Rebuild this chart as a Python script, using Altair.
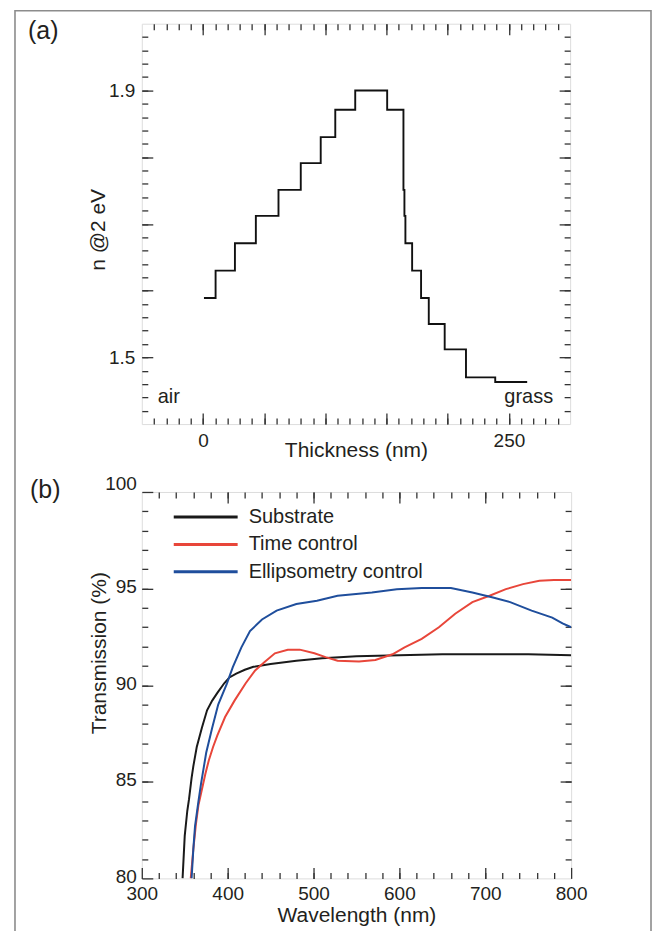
import altair as alt
import pandas as pd

# ---------------- data: panel (a) ----------------
thickness_nm = [0.8, 10.3, 26.1, 43.2, 61.7, 79.9, 96.2, 108.1, 124.4, 150.5,
                163.8, 164.6, 165.4, 170.9, 178.2, 184.5, 197.5, 214.9, 238.8, 264.9]
n_at_2eV = [1.589, 1.630, 1.671, 1.712, 1.751, 1.791, 1.830, 1.871, 1.900, 1.871,
            1.751, 1.712, 1.671, 1.630, 1.589, 1.550, 1.512, 1.470, 1.463, 1.463]

# ---------------- data: panel (b) ----------------
series_names = ["Substrate", "Time control", "Ellipsometry control"]
series_colors = ["#1a1a1a", "#e8463a", "#1f4e9c"]

wl_sub = [347.5, 350, 353, 355, 358, 360, 364, 370, 376, 382, 388, 396, 402, 410,
          420, 430, 450, 480, 510, 550, 600, 650, 700, 750, 800]
tr_sub = [80.0, 82.2, 83.5, 84.1, 85.2, 85.8, 86.8, 87.8, 88.7, 89.2, 89.6, 90.1, 90.4, 90.6,
          90.8, 90.95, 91.1, 91.27, 91.4, 91.5, 91.55, 91.6, 91.6, 91.6, 91.55]

wl_time = [357, 360, 363, 366, 370, 374, 378, 383, 388, 397, 408, 421, 432, 443, 455, 470,
           484, 501, 514, 528, 553, 572, 592, 606, 626, 646, 665, 685, 705, 724, 744, 763,
           780, 800]
tr_time = [80.0, 81.5, 82.8, 83.8, 84.6, 85.4, 86.1, 86.8, 87.4, 88.35, 89.2, 90.1, 90.76,
           91.2, 91.65, 91.83, 91.84, 91.65, 91.45, 91.27, 91.22, 91.3, 91.6, 91.96, 92.4,
           93.0, 93.7, 94.3, 94.63, 94.97, 95.23, 95.4, 95.44, 95.45]

wl_ell = [358, 360, 362, 366, 369, 375, 382, 389, 399, 406, 416, 426, 440, 457, 480, 504,
          528, 568, 597, 626, 660, 685, 709, 729, 754, 778, 790, 800]
tr_ell = [80.0, 81.5, 82.7, 84.0, 84.9, 86.5, 87.8, 89.0, 90.07, 90.93, 91.96, 92.8, 93.4,
          93.86, 94.2, 94.37, 94.63, 94.8, 94.96, 95.03, 95.03, 94.8, 94.54, 94.3, 93.86,
          93.5, 93.2, 93.0]

# tick positions
a_x_major = [0, 50, 100, 150, 200, 250]
a_x_minor = list(range(-40, 300, 10))
a_y_major = [1.5, 1.6, 1.7, 1.8, 1.9]
a_y_minor = [round(1.42 + 0.02 * i, 2) for i in range(29)]
b_x_major = [400, 500, 600, 700]
b_x_labels = [300, 400, 500, 600, 700, 800]
b_x_minor = list(range(320, 800, 20))
b_y_major = [85, 90, 95]
b_y_labels = [80, 85, 90, 95, 100]
b_y_minor = list(range(81, 100))

FONT = "Liberation Sans"
TXT = "#231f20"
AXC = "#333333"
MAJ = 11
MIN = 6
TICKFS = 19
TITLEFS = 21
TEXTFS = 20

step_df = pd.DataFrame({"x": thickness_nm, "n": n_at_2eV})
rows = []
for name, wl, tr in [(series_names[0], wl_sub, tr_sub),
                     (series_names[1], wl_time, tr_time),
                     (series_names[2], wl_ell, tr_ell)]:
    for w, t in zip(wl, tr):
        rows.append({"wl": w, "T": t, "series": name})
trans_df = pd.DataFrame(rows)
legend_df = pd.DataFrame({"series": series_names, "row": list(range(len(series_names)))})
one = pd.DataFrame({"k": [0]})


def tick_axis(orient, values, size, labels=False, **kw):
    base = dict(orient=orient, values=values, tickSize=size, offset=-size, domain=False,
                grid=False, ticks=True, tickColor=AXC, tickWidth=1.3, labels=labels,
                title=None, labelFlush=False)
    if labels:
        base.update(labelFont=FONT, labelFontSize=TICKFS, labelColor=TXT, labelPadding=6)
    base.update(kw)
    return alt.Axis(**base)


def title_style(text, **kw):
    d = dict(title=text, titleFont=FONT, titleFontSize=TITLEFS, titleColor=TXT,
             titleFontWeight="normal", titleBaseline="middle")
    d.update(kw)
    return d


def ghost(df, xf, yf, xs, ys, xaxis, yaxis):
    return alt.Chart(df).mark_line(strokeOpacity=0).encode(
        x=alt.X(xf, scale=xs, axis=xaxis), y=alt.Y(yf, scale=ys, axis=yaxis))


# ---------------- panel (a) ----------------
WA, HA = 429, 401
xa = alt.Scale(domain=[-50, 300], nice=False, zero=False)
ya = alt.Scale(domain=[1.4, 2.0], nice=False, zero=False)

a_main = alt.Chart(step_df).mark_line(interpolate="step-after", color="#111111",
                                      strokeWidth=1.9).encode(
    x=alt.X("x:Q", scale=xa, axis=tick_axis(
        "bottom", a_x_major, MAJ, labels=True, labelPadding=7,
        labelExpr="datum.value == 0 || datum.value == 250 ? datum.label : ''",
        **title_style("Thickness (nm)", titleY=37))),
    y=alt.Y("n:Q", scale=ya, axis=tick_axis(
        "left", a_y_major, MAJ, labels=True, labelPadding=7,
        labelExpr="datum.value == 1.5 || datum.value == 1.9 ? datum.label : ''",
        **title_style("n @2 eV", titleX=-54, titleY=206))),
)

a_g1 = ghost(step_df, "x:Q", "n:Q", xa, ya, tick_axis("top", a_x_major, MAJ),
             tick_axis("right", a_y_major, MAJ))
a_g2 = ghost(step_df, "x:Q", "n:Q", xa, ya, tick_axis("bottom", a_x_minor, MIN),
             tick_axis("left", a_y_minor, MIN))
a_g3 = ghost(step_df, "x:Q", "n:Q", xa, ya, tick_axis("top", a_x_minor, MIN),
             tick_axis("right", a_y_minor, MIN))

txt_style = dict(font=FONT, fontSize=TEXTFS, color=TXT, baseline="alphabetic")
a_air = alt.Chart(one).mark_text(text="air", align="left", **txt_style).encode(
    x=alt.value(16), y=alt.value(380))
a_grass = alt.Chart(one).mark_text(text="grass", align="right", **txt_style).encode(
    x=alt.value(WA - 17), y=alt.value(380))
a_lab = alt.Chart(one).mark_text(text="(a)", align="left", baseline="middle", font=FONT,
                                 fontSize=25, color=TXT).encode(
    x=alt.value(-114), y=alt.value(7))

# outer figure frame (its lower edge lies below the visible page)
frame = alt.Chart(one).mark_rect(fill="white", fillOpacity=0, stroke="#8c8c8c",
                                 strokeWidth=1.6).encode(
    x=alt.value(-127), x2=alt.value(510), y=alt.value(-13), y2=alt.value(925))

panel_a = alt.layer(frame, a_main, a_g1, a_g2, a_g3, a_air, a_grass, a_lab).resolve_axis(
    x="independent", y="independent").properties(width=WA, height=HA)

# ---------------- panel (b) ----------------
WB, HB = 430, 387
xb = alt.Scale(domain=[300, 800], nice=False, zero=False)
yb = alt.Scale(domain=[80, 100], nice=False, zero=False)
cscale = alt.Scale(domain=series_names, range=series_colors)

b_main = alt.Chart(trans_df).mark_line(strokeWidth=2, clip=True).encode(
    x=alt.X("wl:Q", scale=xb, axis=tick_axis(
        "bottom", b_x_labels, MAJ, labels=True, labelPadding=6,
        **title_style("Wavelength (nm)", titleY=48.5))),
    y=alt.Y("T:Q", scale=yb, axis=tick_axis(
        "left", b_y_labels, MAJ, labels=True, labelPadding=5.5, labelOffset=-2,
        labelBaseline={"condition": {"test": "datum.value == 100", "value": "alphabetic"},
                       "value": "middle"},
        **title_style("Transmission (%)", titleX=-53, titleY=161))),
    color=alt.Color("series:N", scale=cscale, legend=None),
    order=alt.Order("wl:Q"),
)
b_g1 = ghost(trans_df, "wl:Q", "T:Q", xb, yb, tick_axis("top", b_x_major, MAJ),
             tick_axis("right", b_y_major, MAJ))
b_g2 = ghost(trans_df, "wl:Q", "T:Q", xb, yb, tick_axis("bottom", b_x_minor, MIN),
             tick_axis("left", b_y_minor, MIN))
b_g3 = ghost(trans_df, "wl:Q", "T:Q", xb, yb, tick_axis("top", b_x_minor, MIN),
             tick_axis("right", b_y_minor, MIN))

# legend (drawn from the series list; rows placed through a row scale)
row_scale = alt.Scale(domain=[0, len(series_names) - 1], range=[25, 80], nice=False, zero=False)
leg_line = alt.Chart(legend_df).mark_rule(strokeWidth=3).encode(
    x=alt.value(32), x2=alt.value(96),
    y=alt.Y("row:Q", scale=row_scale, axis=None),
    color=alt.Color("series:N", scale=cscale, legend=None))
leg_text = alt.Chart(legend_df).mark_text(align="left", baseline="middle", font=FONT,
                                          fontSize=TEXTFS, color=TXT).encode(
    x=alt.value(107),
    y=alt.Y("row:Q", scale=row_scale, axis=None),
    text="series:N")

b_lab = alt.Chart(one).mark_text(text="(b)", align="left", baseline="middle", font=FONT,
                                 fontSize=25, color=TXT).encode(
    x=alt.value(-112), y=alt.value(-2))

panel_b = alt.layer(b_main, b_g1, b_g2, b_g3, leg_line, leg_text, b_lab).resolve_axis(
    x="independent", y="independent").resolve_scale(y="independent").properties(
    width=WB, height=HB)

chart = alt.vconcat(panel_a, panel_b, spacing=68, bounds="flush").properties(
    padding={"left": 5, "top": 0, "right": 0, "bottom": 0}
).configure_view(stroke=AXC, strokeWidth=1.5).configure(background="white")

chart.save("out.html", embed_options={"renderer": "svg", "actions": False})
